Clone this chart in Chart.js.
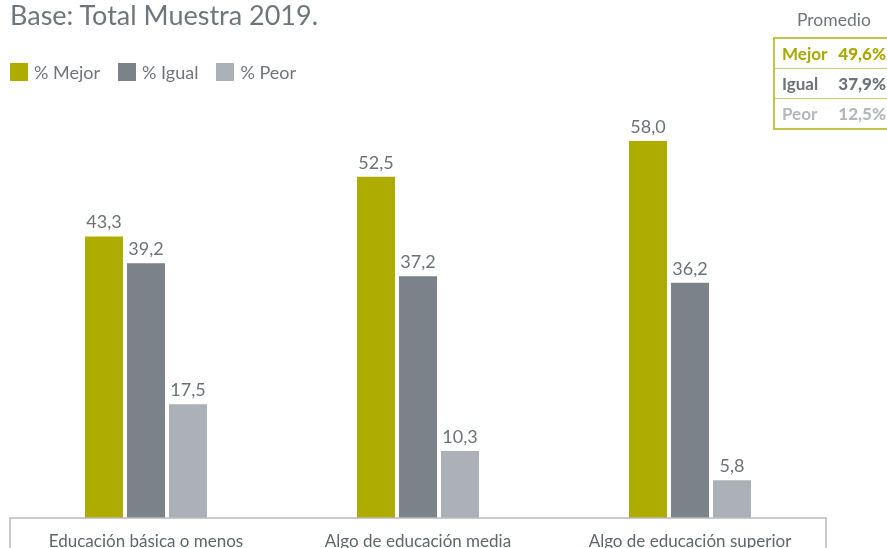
<!DOCTYPE html>
<html lang="es">
<head>
  <meta charset="UTF-8">
  <title>Base: Total Muestra 2019</title>
  <script src="https://cdn.jsdelivr.net/npm/chart.js"></script>
  <style>
    body {
      margin: 0;
      background: #fff;
      font-family: Lato, sans-serif;
      color: #6e767c;
    }
    #wrap {
      position: relative;
      width: 887px;
      height: 548px;
      overflow: hidden;
    }
    #title {
      position: absolute;
      left: 10px;
      top: -2px;
      font-size: 27px;
      line-height: 34px;
      color: #6e767c;
    }
    #legend {
      position: absolute;
      left: 10px;
      top: 62px;
      display: flex;
      gap: 18px;
      font-size: 18px;
      line-height: 20px;
    }
    #legend span.item { display: flex; align-items: center; gap: 6px; }
    #legend span.box { width: 18px; height: 18px; display: inline-block; }
    #promedio-title {
      position: absolute;
      left: 797px;
      top: 9px;
      font-size: 17.5px;
      line-height: 22px;
      color: #6e767c;
    }
    #promedio {
      position: absolute;
      left: 773px;
      top: 37px;
      width: 130px;
      border: 2px solid #c3c24a;
    }
    #promedio div {
      height: 29px;
      line-height: 29px;
      font-size: 17px;
      font-weight: bold;
      padding-left: 7px;
      position: relative;
      border-top: 1px solid #cfce6e;
    }
    #promedio div:first-child { border-top: none; }
    #promedio div b {
      position: absolute;
      right: 19px;
      top: 0;
    }
    canvas { position: absolute; left: 0; top: 0; }
  </style>
</head>
<body>
  <div id="wrap">
    <canvas id="chart" width="887" height="548"></canvas>
    <div id="title">Base: Total Muestra 2019.</div>
    <div id="legend"></div>
    <div id="promedio-title">Promedio</div>
    <div id="promedio"></div>
  </div>

  <script>
    const categories = ['Educación básica o menos', 'Algo de educación media', 'Algo de educación superior'];
    const seriesNames = ['% Mejor', '% Igual', '% Peor'];
    const mejor = [43.3, 52.5, 58.0];
    const igual = [39.2, 37.2, 36.2];
    const peor = [17.5, 10.3, 5.8];
    const colors = ['#aeac00', '#7b8289', '#abb1b7'];
    const promedioLabels = ['Mejor', 'Igual', 'Peor'];
    const promedioValues = ['49,6%', '37,9%', '12,5%'];
    const promedioColors = ['#a9a800', '#6b7278', '#b3b8bd'];

    // value labels above each bar
    const valueLabels = {
      id: 'valueLabels',
      afterDatasetsDraw(chart) {
        const ctx = chart.ctx;
        ctx.save();
        ctx.font = '18px Lato';
        ctx.fillStyle = '#6b7278';
        ctx.textAlign = 'center';
        ctx.textBaseline = 'bottom';
        chart.data.datasets.forEach((ds, i) => {
          chart.getDatasetMeta(i).data.forEach((bar, j) => {
            ctx.fillText(ds.data[j].toFixed(1).replace('.', ','), bar.x, bar.y - 5);
          });
        });
        ctx.restore();
      }
    };

    // open box under the bars
    const axisBox = {
      id: 'axisBox',
      afterDraw(chart) {
        const a = chart.chartArea;
        const ctx = chart.ctx;
        ctx.save();
        ctx.strokeStyle = '#b9b9b9';
        ctx.lineWidth = 1.5;
        ctx.beginPath();
        ctx.moveTo(a.left, chart.height);
        ctx.lineTo(a.left, a.bottom);
        ctx.lineTo(a.right, a.bottom);
        ctx.lineTo(a.right, chart.height);
        ctx.stroke();
        ctx.restore();
      }
    };

    const chart = new Chart(document.getElementById('chart'), {
      type: 'bar',
      data: {
        labels: categories,
        datasets: [
          { label: seriesNames[0], data: mejor, backgroundColor: colors[0] },
          { label: seriesNames[1], data: igual, backgroundColor: colors[1] },
          { label: seriesNames[2], data: peor, backgroundColor: colors[2] }
        ]
      },
      options: {
        responsive: false,
        animation: false,
        categoryPercentage: 0.463,
        barPercentage: 0.905,
        layout: { padding: { left: 10, right: 61, top: 115, bottom: 0 } },
        plugins: {
          legend: { display: false },
          title: { display: false },
          tooltip: { enabled: false }
        },
        scales: {
          x: {
            grid: { display: false, drawTicks: false },
            border: { display: false },
            afterFit(scale) { scale.height = 30; },
            ticks: {
              color: '#5f666c',
              font: { family: 'Lato', size: 17 },
              padding: 13,
              maxRotation: 0
            }
          },
          y: {
            display: false,
            min: 0,
            max: 62
          }
        }
      },
      plugins: [valueLabels, axisBox]
    });

    const legend = document.getElementById('legend');
    chart.data.datasets.forEach(ds => {
      const item = document.createElement('span');
      item.className = 'item';
      item.innerHTML = `<span class="box" style="background:${ds.backgroundColor}"></span>${ds.label}`;
      legend.appendChild(item);
    });

    const prom = document.getElementById('promedio');
    promedioLabels.forEach((lab, i) => {
      const row = document.createElement('div');
      row.style.color = promedioColors[i];
      row.innerHTML = `${lab}<b>${promedioValues[i]}</b>`;
      prom.appendChild(row);
    });
  </script>
</body>
</html>
